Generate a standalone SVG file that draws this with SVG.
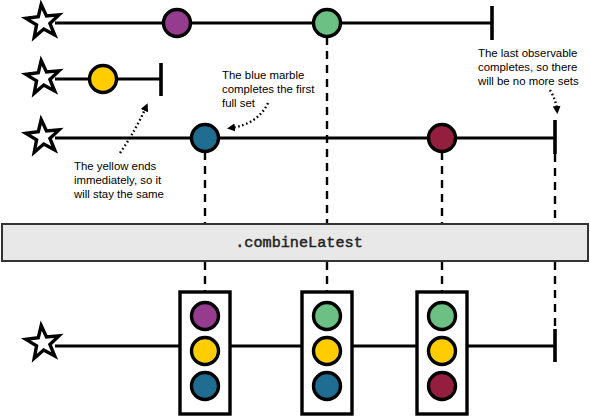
<svg xmlns="http://www.w3.org/2000/svg" width="590" height="416" viewBox="0 0 590 416">
<defs>
<style>
.ln{stroke:#000;stroke-width:3.2;fill:none}
.tick{stroke:#000;stroke-width:3.6;fill:none}
.dash{stroke:#000;stroke-width:2.4;stroke-dasharray:8 6;fill:none}
.dot{stroke:#000;stroke-width:2.4;stroke-dasharray:1.6 2.6;fill:none}
.m{stroke:#000;stroke-width:3.4}
.star{fill:#fff;stroke:#000;stroke-width:3.4;stroke-linejoin:miter}
.box{fill:#fff;stroke:#000;stroke-width:3.4}
.note{font-family:"Liberation Sans",Arial,sans-serif;font-size:11.4px;fill:#000}
.op{font-family:"Liberation Mono","Courier New",monospace;font-size:15.2px;fill:#222;stroke:#222;stroke-width:0.45}
.pu{fill:#963C8E}.gr{fill:#6CC084}.ye{fill:#FFCC00}.bl{fill:#1F6E92}.rd{fill:#941E3E}
</style>
<polygon id="st" points="0,-17.5 4.1,-5.7 16.6,-5.4 6.7,2.2 10.3,14.2 0,7.1 -10.3,14.2 -6.7,2.2 -16.6,-5.4 -4.1,-5.7"/>
<marker id="ah" markerWidth="8" markerHeight="8" refX="4" refY="4" orient="auto" markerUnits="userSpaceOnUse"><path d="M0,0 L8,4 L0,8 Z" fill="#000"/></marker>
</defs>
<g id="connectors">
<line class="dash" x1="327" y1="37" x2="327" y2="223"/>
<line class="dash" x1="205" y1="152" x2="205" y2="223"/>
<line class="dash" x1="442" y1="152" x2="442" y2="223"/>
<line class="dash" x1="555" y1="154" x2="555" y2="223"/>
<line class="dash" x1="205" y1="262" x2="205" y2="291"/>
<line class="dash" x1="327" y1="262" x2="327" y2="291"/>
<line class="dash" x1="442" y1="262" x2="442" y2="291"/>
<line class="dash" x1="555" y1="262" x2="555" y2="330"/>
<path class="dot" d="M120,153 Q136,130 146,107" marker-end="url(#ah)"/>
<path class="dot" d="M268,103 Q258,124 231,128" marker-end="url(#ah)"/>
<path class="dot" d="M550,90 Q556,100 557,110" marker-end="url(#ah)"/>
</g>
<g id="stream1">
<line class="ln" x1="55" y1="23" x2="492" y2="23"/>
<line class="tick" x1="492" y1="6" x2="492" y2="40"/>
<use href="#st" class="star" x="43" y="22" transform="rotate(-6 43 22)"/>
<circle class="m pu" cx="177" cy="23" r="13.5"/>
<circle class="m gr" cx="327" cy="23" r="13.5"/>
</g>
<g id="stream2">
<line class="ln" x1="55" y1="79" x2="161" y2="79"/>
<line class="tick" x1="161" y1="63" x2="161" y2="96"/>
<use href="#st" class="star" x="43" y="78" transform="rotate(-6 43 78)"/>
<circle class="m ye" cx="103" cy="79" r="13.5"/>
</g>
<g id="stream3">
<line class="ln" x1="55" y1="138" x2="555" y2="138"/>
<line class="tick" x1="555" y1="120" x2="555" y2="154"/>
<use href="#st" class="star" x="43" y="137" transform="rotate(-6 43 137)"/>
<circle class="m bl" cx="205" cy="138" r="13.5"/>
<circle class="m rd" cx="442" cy="138" r="13.5"/>
</g>
<g id="operator">
<rect x="2" y="224" width="586" height="37" fill="#E8E8E8" stroke="#333" stroke-width="2"/>
<text class="op" x="299" y="247" text-anchor="middle">.combineLatest</text>
</g>
<g id="result">
<line class="ln" x1="55" y1="346" x2="555" y2="346"/>
<line class="tick" x1="555" y1="329" x2="555" y2="362"/>
<use href="#st" class="star" x="43" y="343" transform="rotate(-6 43 343)"/>
</g>
<g id="set1">
<rect class="box" x="180" y="292" width="50" height="122"/>
<circle class="m pu" cx="205" cy="316" r="13.5"/>
<circle class="m ye" cx="205" cy="351" r="13.5"/>
<circle class="m bl" cx="205" cy="386" r="13.5"/>
</g>
<g id="set2">
<rect class="box" x="302" y="292" width="50" height="122"/>
<circle class="m gr" cx="327" cy="316" r="13.5"/>
<circle class="m ye" cx="327" cy="351" r="13.5"/>
<circle class="m bl" cx="327" cy="386" r="13.5"/>
</g>
<g id="set3">
<rect class="box" x="417" y="292" width="50" height="122"/>
<circle class="m gr" cx="442" cy="316" r="13.5"/>
<circle class="m ye" cx="442" cy="351" r="13.5"/>
<circle class="m rd" cx="442" cy="386" r="13.5"/>
</g>
<g id="note-blue">
<text class="note" x="222" y="79">The blue marble</text>
<text class="note" x="222" y="93">completes the first</text>
<text class="note" x="222" y="107">full set</text>
</g>
<g id="note-last">
<text class="note" x="478" y="57">The last observable</text>
<text class="note" x="478" y="71">completes, so there</text>
<text class="note" x="478" y="85">will be no more sets</text>
</g>
<g id="note-yellow">
<text class="note" x="74" y="170">The yellow ends</text>
<text class="note" x="74" y="184">immediately, so it</text>
<text class="note" x="74" y="198">will stay the same</text>
</g>
</svg>
